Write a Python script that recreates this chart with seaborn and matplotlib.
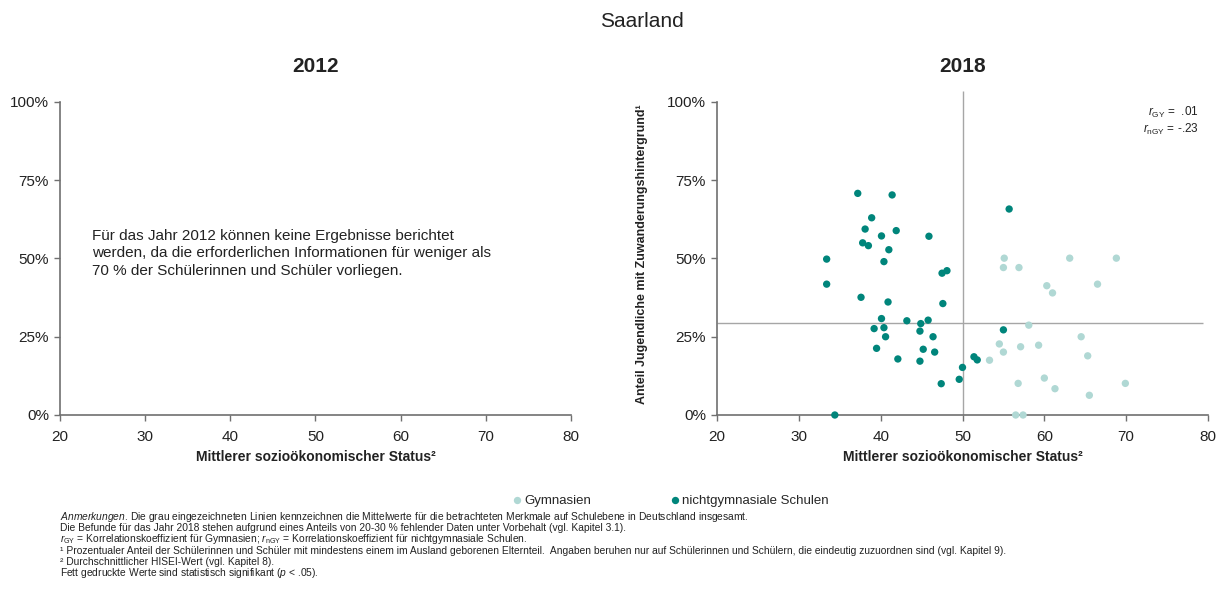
import numpy as np
import pandas as pd
import matplotlib
matplotlib.use("Agg")
import matplotlib.pyplot as plt
import seaborn as sns

#### Données (2018)
gym_x = [55.1, 55.0, 56.9, 63.1, 68.8, 66.5, 60.3, 61.0, 58.1, 64.5, 54.5, 57.1,
         59.3, 55.0, 65.3, 53.3, 56.8, 60.0, 61.3, 69.9, 65.5, 56.5, 57.4]
gym_y = [50.1, 47.1, 47.1, 50.1, 50.1, 41.8, 41.3, 39.0, 28.7, 25.0, 22.7, 21.8,
         22.3, 20.1, 18.9, 17.5, 10.1, 11.8, 8.4, 10.1, 6.3, 0.0, 0.0]

ngym_x = [37.2, 41.4, 38.9, 38.1, 41.9, 40.1, 45.9, 37.8, 38.5, 41.0, 40.4, 33.4,
          47.5, 48.1, 33.4, 37.6, 40.9, 47.6, 40.1, 43.2, 44.9, 45.8, 39.2, 40.4,
          44.8, 40.6, 46.4, 39.5, 45.2, 46.6, 42.1, 44.8, 47.4, 34.4, 49.6, 50.0,
          55.7, 55.0, 51.4, 51.8]
ngym_y = [70.8, 70.3, 63.0, 59.4, 58.9, 57.2, 57.1, 55.0, 54.1, 52.8, 49.0, 49.8,
          45.3, 46.1, 41.8, 37.6, 36.1, 35.6, 30.8, 30.1, 29.2, 30.3, 27.6, 27.9,
          26.8, 25.0, 25.0, 21.3, 21.0, 20.1, 17.9, 17.2, 10.0, 0.0, 11.4, 15.2,
          65.8, 27.2, 18.6, 17.6]

# Mittelwerte Deutschland (graue Linien)
mean_x = 50.0
mean_y = 29.5

r_gy = " .01"
r_ngy = "-.23"

x_ticks = [20, 30, 40, 50, 60, 70, 80]
y_ticks = [0, 25, 50, 75, 100]
y_ticklabels = ["0%", "25%", "50%", "75%", "100%"]

groupes = ["Gymnasien", "nichtgymnasiale Schulen"]
couleurs = ["#B0D8D4", "#00857B"]

df = pd.DataFrame({
    "ses": gym_x + ngym_x,
    "anteil": gym_y + ngym_y,
    "Schulart": [groupes[0]] * len(gym_x) + [groupes[1]] * len(ngym_x),
})

#### Style
sns.set_theme(style="ticks")
plt.rcParams["font.family"] = ["Liberation Sans", "DejaVu Sans"]
plt.rcParams["mathtext.fontset"] = "custom"
plt.rcParams["mathtext.rm"] = "Liberation Sans"
plt.rcParams["mathtext.it"] = "Liberation Sans:italic"
plt.rcParams["mathtext.bf"] = "Liberation Sans:bold"

W, H = 1222, 611
fig = plt.figure(figsize=(W / 100, H / 100), dpi=100)
ax1 = fig.add_axes([60 / W, 1 - 415 / H, 511 / W, 324 / H])
ax2 = fig.add_axes([717 / W, 1 - 415 / H, 491 / W, 324 / H])


def style_axes(ax):
    """Mise en forme commune des deux panneaux"""
    ax.set_xlim(20, 80)
    ax.set_ylim(0, 103.5)
    ax.set_xticks(x_ticks)
    ax.set_yticks(y_ticks)
    ax.set_yticklabels(y_ticklabels)
    ax.spines[["top", "right"]].set_visible(False)
    ax.spines["left"].set_bounds(0, 100)
    for s in ["left", "bottom"]:
        ax.spines[s].set_color("#707070")
        ax.spines[s].set_linewidth(1.2)
    ax.tick_params(length=4, width=1, color="#707070", labelsize=11,
                   labelcolor="#222222")
    ax.tick_params(axis="x", pad=7)
    ax.tick_params(axis="y", pad=4)
    ax.set_xlabel("Mittlerer sozioökonomischer Status²", fontsize=10,
                  fontweight="bold", color="#222222", labelpad=4)
    ax.set_ylabel("")


#### 2012 : pas de données
style_axes(ax1)
ax1.set_title("2012", fontsize=15, fontweight="bold", pad=14, color="#222222")
ax1.text(0.0626, 0.574,
         "Für das Jahr 2012 können keine Ergebnisse berichtet\n"
         "werden, da die erforderlichen Informationen für weniger als\n"
         "70 % der Schülerinnen und Schüler vorliegen.",
         transform=ax1.transAxes, fontsize=11, va="top", ha="left",
         linespacing=1.3, color="#222222")

#### 2018
ax2.vlines(mean_x, 0, 103.5, color="#A6A6A6", linewidth=1, zorder=1)
ax2.hlines(mean_y, 20, 79.4, color="#A6A6A6", linewidth=1, zorder=1)
sns.scatterplot(data=df, x="ses", y="anteil", hue="Schulart", hue_order=groupes,
                palette=couleurs, s=28, linewidth=0, ax=ax2, zorder=3, clip_on=False)
style_axes(ax2)
ax2.set_title("2018", fontsize=15, fontweight="bold", pad=14, color="#222222")
ax2.set_ylabel("Anteil Jugendliche mit Zuwanderungshintergrund¹", fontsize=9,
               fontweight="bold", color="#222222")
ax2.yaxis.set_label_coords(-0.14, 0.497)

ax2.text(0.981, 0.933, r"$r_{\mathrm{GY}}$ = " + r_gy, transform=ax2.transAxes,
         ha="right", va="center", fontsize=8.5, color="#222222")
ax2.text(0.981, 0.88, r"$r_{\mathrm{nGY}}$ = " + r_ngy, transform=ax2.transAxes,
         ha="right", va="center", fontsize=8.5, color="#222222")

sns.move_legend(ax2, "center", bbox_to_anchor=(0.549, 1 - 501 / H),
                bbox_transform=fig.transFigure, ncol=2, title=None,
                frameon=False, fontsize=9.5, handlelength=0.6,
                handletextpad=0.3, columnspacing=6.0, markerscale=1.0)

#### Titre et notes
fig.text(0.525, 1 - 27 / H, "Saarland", ha="center", va="baseline",
         fontsize=15, color="#222222")

notes = [
    r"$\mathit{Anmerkungen}$. Die grau eingezeichneten Linien kennzeichnen die Mittelwerte für die betrachteten Merkmale auf Schulebene in Deutschland insgesamt.",
    "Die Befunde für das Jahr 2018 stehen aufgrund eines Anteils von 20-30 % fehlender Daten unter Vorbehalt (vgl. Kapitel 3.1).",
    r"$r_{\mathrm{GY}}$ = Korrelationskoeffizient für Gymnasien; $r_{\mathrm{nGY}}$ = Korrelationskoeffizient für nichtgymnasiale Schulen.",
    "¹ Prozentualer Anteil der Schülerinnen und Schüler mit mindestens einem im Ausland geborenen Elternteil.  Angaben beruhen nur auf Schülerinnen und Schülern, die eindeutig zuzuordnen sind (vgl. Kapitel 9).",
    "² Durchschnittlicher HISEI-Wert (vgl. Kapitel 8).",
    r"Fett gedruckte Werte sind statistisch signifikant ($p$ < .05).",
]
for i, ligne in enumerate(notes):
    fig.text(60 / W, 1 - (517 + 11.2 * i) / H, ligne, ha="left", va="center",
             fontsize=7.4, color="#222222")

fig.savefig("out.png", dpi=100)
